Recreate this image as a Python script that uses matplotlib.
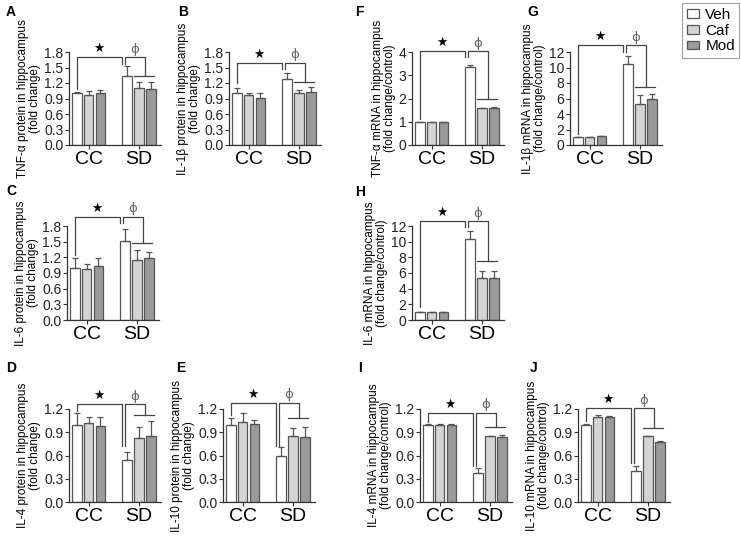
import numpy as np
import matplotlib
matplotlib.use("Agg")
import matplotlib.pyplot as plt
from matplotlib.patches import Patch

plt.rcParams['font.family'] = ['Liberation Sans', 'DejaVu Sans']

groups = ['CC', 'SD']
series = ['Veh', 'Caf', 'Mod']

# bar heights [CC, SD] and upper error
a_veh = [1.00, 1.33]; a_caf = [0.96, 1.10]; a_mod = [1.00, 1.08]
a_err_veh = [0.03, 0.20]; a_err_caf = [0.09, 0.12]; a_err_mod = [0.06, 0.13]

b_veh = [1.00, 1.27]; b_caf = [0.96, 1.00]; b_mod = [0.91, 1.03]
b_err_veh = [0.11, 0.13]; b_err_caf = [0.04, 0.07]; b_err_mod = [0.09, 0.10]

c_veh = [1.00, 1.52]; c_caf = [0.97, 1.14]; c_mod = [1.03, 1.18]
c_err_veh = [0.18, 0.22]; c_err_caf = [0.11, 0.20]; c_err_mod = [0.15, 0.12]

d_veh = [1.00, 0.54]; d_caf = [1.02, 0.83]; d_mod = [0.98, 0.85]
d_err_veh = [0.15, 0.11]; d_err_caf = [0.08, 0.14]; d_err_mod = [0.12, 0.20]

e_veh = [1.00, 0.59]; e_caf = [1.03, 0.85]; e_mod = [1.01, 0.84]
e_err_veh = [0.08, 0.12]; e_err_caf = [0.12, 0.10]; e_err_mod = [0.05, 0.13]

f_veh = [1.00, 3.37]; f_caf = [0.99, 1.58]; f_mod = [1.00, 1.60]
f_err_veh = [0.01, 0.07]; f_err_caf = [0.01, 0.01]; f_err_mod = [0.01, 0.03]

g_veh = [1.00, 10.5]; g_caf = [1.05, 5.3]; g_mod = [1.10, 6.0]
g_err_veh = [0.02, 1.0]; g_err_caf = [0.02, 1.2]; g_err_mod = [0.03, 0.6]

h_veh = [1.00, 10.4]; h_caf = [1.05, 5.3]; h_mod = [1.05, 5.3]
h_err_veh = [0.02, 1.0]; h_err_caf = [0.02, 1.0]; h_err_mod = [0.02, 1.0]

i_veh = [1.00, 0.37]; i_caf = [0.99, 0.85]; i_mod = [1.00, 0.84]
i_err_veh = [0.005, 0.07]; i_err_caf = [0.02, 0.005]; i_err_mod = [0.01, 0.02]

j_veh = [1.00, 0.40]; j_caf = [1.10, 0.85]; j_mod = [1.10, 0.78]
j_err_veh = [0.005, 0.06]; j_err_caf = [0.02, 0.005]; j_err_mod = [0.01, 0.01]

# bracket heights: top line, left leg end, right legs end, phi bar
a_brk = [1.70, 1.09, 1.56, 1.33]
b_brk = [1.59, 1.20, 1.47, 1.22]
c_brk = [1.98, 1.25, 1.86, 1.47]
d_brk = [1.26, 1.18, 0.72, 1.12]
e_brk = [1.28, 1.12, 0.72, 1.08]
f_brk = [4.04, 1.10, 3.80, 2.00]
g_brk = [12.9, 1.40, 12.0, 7.50]
h_brk = [12.6, 1.70, 11.9, 7.50]
i_brk = [1.15, 1.03, 0.47, 0.97]
j_brk = [1.21, 1.04, 0.50, 0.95]

protein_lab = '{} protein in hippocampus\n(fold change)'
mrna_lab = '{} mRNA in hippocampus\n(fold change/control)'

colors = ['white', '#d4d4d4', '#9a9a9a']
edge = '#555555'
W, H = 741, 542


def axpos(left, top, bottom, width=92):
    return [left / W, 1 - bottom / H, width / W, (bottom - top) / H]


def panel(fig, pos, letter, letter_xy, vals, errs, brk, ylabel, ymax, ystep, fmt):
    ax = fig.add_axes(pos)
    cc = np.array([0.0, 1.0, 2.0])
    sd = cc + 4.25
    for k in range(3):
        xs = [cc[k], sd[k]]
        ax.bar(xs, vals[k], width=0.82, color=colors[k], edgecolor=edge, linewidth=0.9, zorder=2)
        ax.errorbar(xs, vals[k], yerr=[[0, 0], errs[k]], fmt='none', ecolor=edge,
                    elinewidth=0.9, capsize=2.3, capthick=0.9, zorder=3)
    top, lleg, rleg, phib = brk
    lc = '#444444'
    kw = dict(color=lc, lw=0.9, clip_on=False, zorder=4)
    ax.plot([0, 0, 3.85, 3.85], [lleg, top, top, rleg], **kw)
    ax.plot([4.1, 4.1, 5.75, 5.75], [rleg, top, top, phib], **kw)
    ax.plot([4.8, 6.5], [phib, phib], **kw)
    ax.annotate('★', (1.9, top), xytext=(0, 1.5), textcoords='offset points',
                ha='center', va='bottom', fontsize=9, color='black', annotation_clip=False)
    ax.annotate('ϕ', (4.9, top), xytext=(0, 1.0), textcoords='offset points',
                ha='center', va='bottom', fontsize=9.5, color='#666666', annotation_clip=False,
                family='DejaVu Sans')
    ax.set_xlim(-0.65, 7.1)
    ax.set_ylim(0, ymax)
    ticks = np.arange(0, ymax + ystep / 2, ystep)
    ax.set_yticks(ticks)
    ax.set_yticklabels([fmt.format(t) for t in ticks], fontsize=10)
    ax.set_xticks([1, 5.25])
    ax.set_xticklabels(groups, fontsize=14)
    for s in ['top', 'right']:
        ax.spines[s].set_visible(False)
    for s in ['left', 'bottom']:
        ax.spines[s].set_color('#333333')
        ax.spines[s].set_linewidth(0.9)
    ax.tick_params(axis='y', length=3, width=0.8, pad=1, colors='#333333', labelcolor='#222222')
    ax.tick_params(axis='x', length=3, width=0.8, pad=1, colors='#333333', labelcolor='black')
    ax.set_ylabel(ylabel, fontsize=8.5, labelpad=2, linespacing=1.0)
    fig.text(letter_xy[0] / W, 1 - letter_xy[1] / H, letter, fontsize=10,
             fontweight='bold', ha='left', va='center')
    return ax


fig = plt.figure(figsize=(7.41, 5.42), dpi=100)

panel(fig, axpos(69, 52, 145), 'A', (6, 12),
      [a_veh, a_caf, a_mod], [a_err_veh, a_err_caf, a_err_mod], a_brk,
      protein_lab.format('TNF-α'), 1.8, 0.3, '{:.1f}')
panel(fig, axpos(229, 52, 145), 'B', (178, 12),
      [b_veh, b_caf, b_mod], [b_err_veh, b_err_caf, b_err_mod], b_brk,
      protein_lab.format('IL-1β'), 1.8, 0.3, '{:.1f}')
panel(fig, axpos(412, 52, 145), 'F', (355, 12),
      [f_veh, f_caf, f_mod], [f_err_veh, f_err_caf, f_err_mod], f_brk,
      mrna_lab.format('TNF-α'), 4, 1, '{:.0f}')
panel(fig, axpos(570, 52, 145), 'G', (527, 12),
      [g_veh, g_caf, g_mod], [g_err_veh, g_err_caf, g_err_mod], g_brk,
      mrna_lab.format('IL-1β'), 12, 2, '{:.0f}')
panel(fig, axpos(67, 226, 320), 'C', (6, 191),
      [c_veh, c_caf, c_mod], [c_err_veh, c_err_caf, c_err_mod], c_brk,
      protein_lab.format('IL-6'), 1.8, 0.3, '{:.1f}')
panel(fig, axpos(412, 226, 320), 'H', (355, 192),
      [h_veh, h_caf, h_mod], [h_err_veh, h_err_caf, h_err_mod], h_brk,
      mrna_lab.format('IL-6'), 12, 2, '{:.0f}')
panel(fig, axpos(69, 409, 502), 'D', (6, 368),
      [d_veh, d_caf, d_mod], [d_err_veh, d_err_caf, d_err_mod], d_brk,
      protein_lab.format('IL-4'), 1.2, 0.3, '{:.1f}')
panel(fig, axpos(223, 409, 502), 'E', (176, 368),
      [e_veh, e_caf, e_mod], [e_err_veh, e_err_caf, e_err_mod], e_brk,
      protein_lab.format('IL-10'), 1.2, 0.3, '{:.1f}')
panel(fig, axpos(420, 409, 502), 'I', (358, 368),
      [i_veh, i_caf, i_mod], [i_err_veh, i_err_caf, i_err_mod], i_brk,
      mrna_lab.format('IL-4'), 1.2, 0.3, '{:.1f}')
panel(fig, axpos(578, 409, 502), 'J', (530, 368),
      [j_veh, j_caf, j_mod], [j_err_veh, j_err_caf, j_err_mod], j_brk,
      mrna_lab.format('IL-10'), 1.2, 0.3, '{:.1f}')

handles = [Patch(facecolor=c, edgecolor=edge, linewidth=0.9) for c in colors]
leg = fig.legend(handles, series, loc='upper right', bbox_to_anchor=(1.0, 0.997),
                 fontsize=11, frameon=True, fancybox=False, handlelength=0.8,
                 handleheight=0.5, handletextpad=0.4, borderpad=0.3, labelspacing=0.12,
                 borderaxespad=0.1)
leg.get_frame().set_edgecolor('#888888')
leg.get_frame().set_linewidth(0.8)

fig.savefig('out.png', dpi=100)
